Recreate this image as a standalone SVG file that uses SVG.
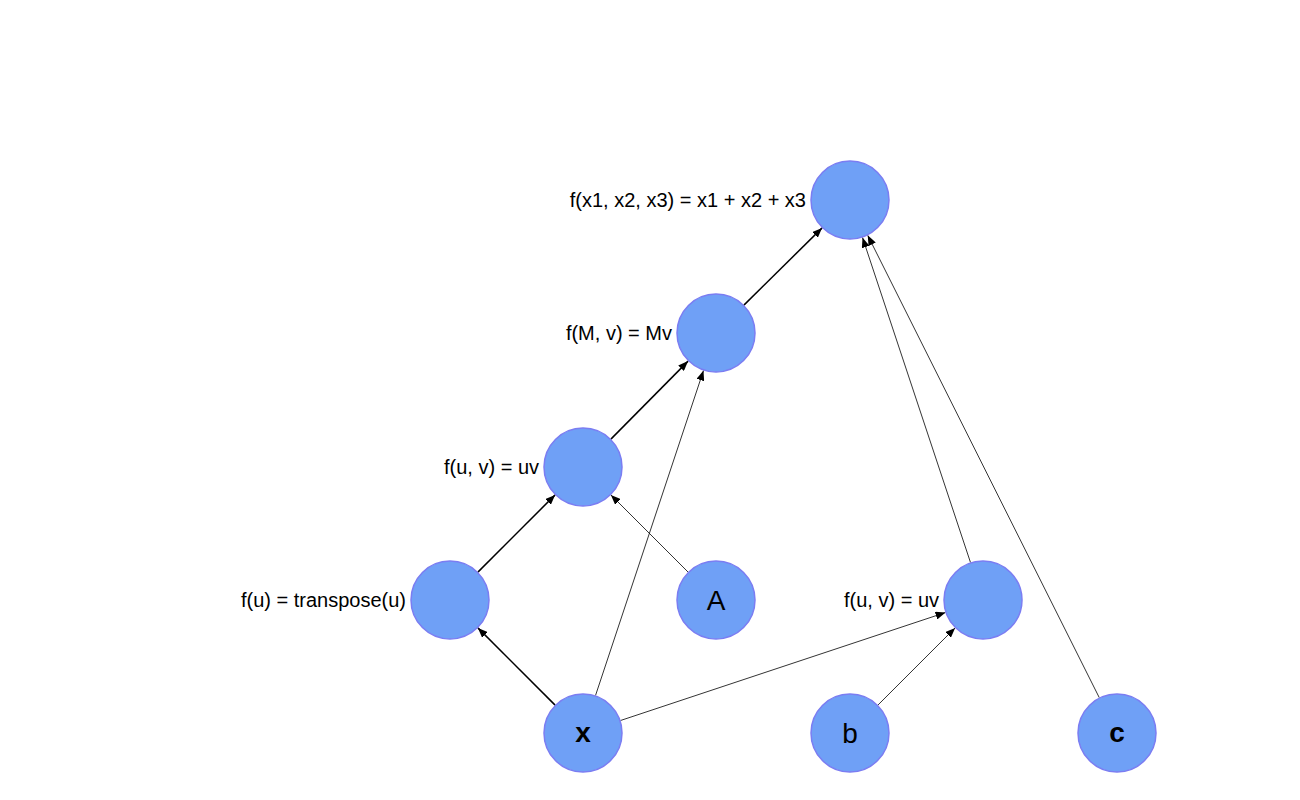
<svg xmlns="http://www.w3.org/2000/svg" width="1300" height="800" viewBox="0 0 1300 800">
<defs>
<style>
.node circle{fill:#6fa0f6;stroke:#7b7df2;stroke-width:1.5}
.lbl{font-family:"Liberation Sans",Arial,sans-serif;font-size:20px;fill:#000;text-anchor:end}
.nl{font-family:"Liberation Sans",Arial,sans-serif;font-size:28px;fill:#000;text-anchor:middle}
.b{font-weight:bold}
.thick{stroke:#000;stroke-width:1.5;fill:none;marker-end:url(#ah)}
.thin{stroke:#000;stroke-width:0.8;fill:none;marker-end:url(#ah)}
</style>
<marker id="ah" markerUnits="userSpaceOnUse" markerWidth="10" markerHeight="8" refX="10" refY="4" orient="auto" viewBox="0 0 10 8">
<path d="M0,0 L10,4 L0,8 z" fill="#000"/>
</marker>
</defs>
<rect width="1300" height="800" fill="#fff"/>
<g id="connectors">
<line class="thick" x1="555.1" y1="705.1" x2="477.9" y2="627.9"/>
<line class="thick" x1="477.9" y1="572.1" x2="555.1" y2="494.9"/>
<line class="thick" x1="610.9" y1="439.1" x2="688.1" y2="361.1"/>
<line class="thick" x1="743.9" y1="305.1" x2="822.1" y2="227.9"/>
<line class="thin" x1="688.1" y1="572.1" x2="610.9" y2="494.9"/>
<line class="thin" x1="595.5" y1="695.5" x2="703.5" y2="370.5"/>
<line class="thin" x1="620.5" y1="720.5" x2="945.5" y2="612.5"/>
<line class="thin" x1="877.9" y1="705.1" x2="955.1" y2="627.9"/>
<line class="thin" x1="970.5" y1="562.5" x2="862.5" y2="237.5"/>
<line class="thin" x1="1099.3" y1="697.7" x2="867.7" y2="235.3"/>
</g>
<g id="n_sum" class="node"><circle cx="850" cy="200" r="39"/><text class="lbl" x="806" y="207">f(x1, x2, x3) = x1 + x2 + x3</text></g>
<g id="n_mv" class="node"><circle cx="716" cy="333" r="39"/><text class="lbl" x="672" y="340">f(M, v) = Mv</text></g>
<g id="n_uv1" class="node"><circle cx="583" cy="467" r="39"/><text class="lbl" x="539" y="474">f(u, v) = uv</text></g>
<g id="n_tr" class="node"><circle cx="450" cy="600" r="39"/><text class="lbl" x="406" y="607">f(u) = transpose(u)</text></g>
<g id="n_A" class="node"><circle cx="716" cy="600" r="39"/><text class="nl" x="716" y="610">A</text></g>
<g id="n_uv2" class="node"><circle cx="983" cy="600" r="39"/><text class="lbl" x="939" y="607">f(u, v) = uv</text></g>
<g id="n_x" class="node"><circle cx="583" cy="733" r="39"/><text class="nl b" x="583" y="742">x</text></g>
<g id="n_b" class="node"><circle cx="850" cy="733" r="39"/><text class="nl" x="850" y="743">b</text></g>
<g id="n_c" class="node"><circle cx="1117" cy="733" r="39"/><text class="nl b" x="1117" y="742">c</text></g>
</svg>
